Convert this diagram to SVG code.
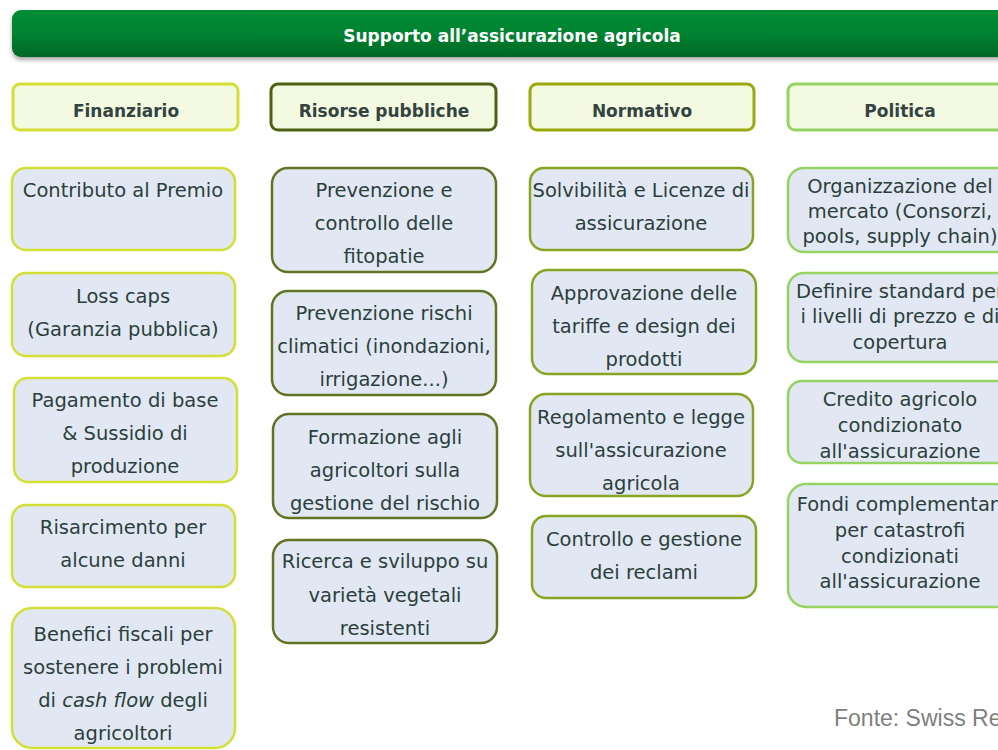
<svg xmlns="http://www.w3.org/2000/svg" width="998" height="750" viewBox="0 0 998 750">
<defs>
<linearGradient id="gTitle" x1="0" y1="0" x2="0" y2="1">
<stop offset="0" stop-color="#008d36"/>
<stop offset="0.5" stop-color="#008231"/>
<stop offset="1" stop-color="#006726"/>
</linearGradient>
<filter id="sh" x="-5%" y="-30%" width="110%" height="170%">
<feGaussianBlur in="SourceAlpha" stdDeviation="2"/>
<feOffset dx="0" dy="3" result="o"/>
<feComponentTransfer><feFuncA type="linear" slope="0.35"/></feComponentTransfer>
<feMerge><feMergeNode/><feMergeNode in="SourceGraphic"/></feMerge>
</filter>
</defs>
<style>
text{font-family:"DejaVu Sans","Liberation Sans",sans-serif;fill:#2b3f3b;text-anchor:middle}
.t{font-size:17px;font-weight:bold;fill:#ffffff}
.h{font-size:17px;font-weight:bold;fill:#33433f}
.b{font-size:19.5px}
.hd{fill:#f4f9e2;stroke-width:3}
.bx{fill:#e2e8f3;stroke-width:2.5}
.c1{stroke:#d3df37}
.c2h{stroke:#4e6012}
.c2{stroke:#627424}
.c3h{stroke:#9aaa0c}
.c3{stroke:#86a523}
.c4{stroke:#95d463}
.src{font-family:"Liberation Sans",Arial,sans-serif;font-size:23px;fill:#7f7f7f;text-anchor:start}
</style>
<rect width="998" height="750" fill="#ffffff"/>
<g id="title">
<rect x="12" y="10" width="1010" height="47" rx="9" fill="url(#gTitle)" filter="url(#sh)"/>
<text class="t" x="512" y="42">Supporto all’assicurazione agricola</text>
</g>
<g id="headers">
<g id="h-finanziario"><rect class="hd c1" x="13" y="84" width="225" height="46" rx="7"/><text class="h" x="126" y="117">Finanziario</text></g>
<g id="h-risorse"><rect class="hd c2h" x="271" y="84" width="225" height="46" rx="7"/><text class="h" x="384" y="117">Risorse pubbliche</text></g>
<g id="h-normativo"><rect class="hd c3h" x="530" y="84" width="224" height="46" rx="7"/><text class="h" x="642" y="117">Normativo</text></g>
<g id="h-politica"><rect class="hd c4" x="788" y="84" width="225" height="46" rx="7"/><text class="h" x="900" y="117">Politica</text></g>
</g>
<g id="col-finanziario">
<g id="n1-1"><rect class="bx c1" x="12" y="168" width="223" height="82" rx="14"/><text class="b" x="123" y="197">Contributo al Premio</text></g>
<g id="n1-2"><rect class="bx c1" x="12" y="273" width="223" height="83" rx="14"/><text class="b" x="123" y="303">Loss caps</text><text class="b" x="123" y="336">(Garanzia pubblica)</text></g>
<g id="n1-3"><rect class="bx c1" x="14" y="378" width="223" height="104" rx="14"/><text class="b" x="125" y="407">Pagamento di base</text><text class="b" x="125" y="440">&amp; Sussidio di</text><text class="b" x="125" y="473">produzione</text></g>
<g id="n1-4"><rect class="bx c1" x="12" y="505" width="223" height="82" rx="14"/><text class="b" x="123" y="534">Risarcimento per</text><text class="b" x="123" y="567">alcune danni</text></g>
<g id="n1-5"><rect class="bx c1" x="12" y="608" width="223" height="140" rx="20"/><text class="b" x="123" y="641">Benefici fiscali per</text><text class="b" x="123" y="674">sostenere i problemi</text><text class="b" x="123" y="707">di <tspan font-style="italic">cash flow</tspan> degli</text><text class="b" x="123" y="740">agricoltori</text></g>
</g>
<g id="col-risorse">
<g id="n2-1"><rect class="bx c2" x="272" y="168" width="224" height="104" rx="16"/><text class="b" x="384" y="197">Prevenzione e</text><text class="b" x="384" y="230">controllo delle</text><text class="b" x="384" y="263">fitopatie</text></g>
<g id="n2-2"><rect class="bx c2" x="272" y="291" width="224" height="104" rx="16"/><text class="b" x="384" y="320">Prevenzione rischi</text><text class="b" x="384" y="353">climatici (inondazioni,</text><text class="b" x="384" y="386">irrigazione...)</text></g>
<g id="n2-3"><rect class="bx c2" x="273" y="414" width="224" height="104" rx="16"/><text class="b" x="385" y="444">Formazione agli</text><text class="b" x="385" y="477">agricoltori sulla</text><text class="b" x="385" y="510">gestione del rischio</text></g>
<g id="n2-4"><rect class="bx c2" x="273" y="540" width="224" height="103" rx="16"/><text class="b" x="385" y="568">Ricerca e sviluppo su</text><text class="b" x="385" y="602">varietà vegetali</text><text class="b" x="385" y="635">resistenti</text></g>
</g>
<g id="col-normativo">
<g id="n3-1"><rect class="bx c3" x="530" y="168" width="223" height="82" rx="14"/><text class="b" x="641" y="197">Solvibilità e Licenze di</text><text class="b" x="641" y="230">assicurazione</text></g>
<g id="n3-2"><rect class="bx c3" x="532" y="270" width="224" height="104" rx="16"/><text class="b" x="644" y="300">Approvazione delle</text><text class="b" x="644" y="333">tariffe e design dei</text><text class="b" x="644" y="366">prodotti</text></g>
<g id="n3-3"><rect class="bx c3" x="530" y="394" width="223" height="102" rx="16"/><text class="b" x="641" y="424">Regolamento e legge</text><text class="b" x="641" y="457">sull'assicurazione</text><text class="b" x="641" y="490">agricola</text></g>
<g id="n3-4"><rect class="bx c3" x="532" y="516" width="224" height="82" rx="14"/><text class="b" x="644" y="546">Controllo e gestione</text><text class="b" x="644" y="579">dei reclami</text></g>
</g>
<g id="col-politica">
<g id="n4-1"><rect class="bx c4" x="788" y="168" width="225" height="84" rx="16"/><text class="b" x="900" y="193">Organizzazione del</text><text class="b" x="900" y="218">mercato (Consorzi,</text><text class="b" x="900" y="243">pools, supply chain)</text></g>
<g id="n4-2"><rect class="bx c4" x="788" y="273" width="225" height="89" rx="16"/><text class="b" x="900" y="298">Definire standard per</text><text class="b" x="900" y="323">i livelli di prezzo e di</text><text class="b" x="900" y="349">copertura</text></g>
<g id="n4-3"><rect class="bx c4" x="788" y="381" width="225" height="82" rx="14"/><text class="b" x="900" y="406">Credito agricolo</text><text class="b" x="900" y="432">condizionato</text><text class="b" x="900" y="458">all'assicurazione</text></g>
<g id="n4-4"><rect class="bx c4" x="788" y="484" width="225" height="123" rx="18"/><text class="b" x="900" y="511">Fondi complementari</text><text class="b" x="900" y="537">per catastrofi</text><text class="b" x="900" y="563">condizionati</text><text class="b" x="900" y="588">all'assicurazione</text></g>
</g>
<g id="connectors"/>
<text class="src" x="834" y="726">Fonte: Swiss Re</text>
</svg>
